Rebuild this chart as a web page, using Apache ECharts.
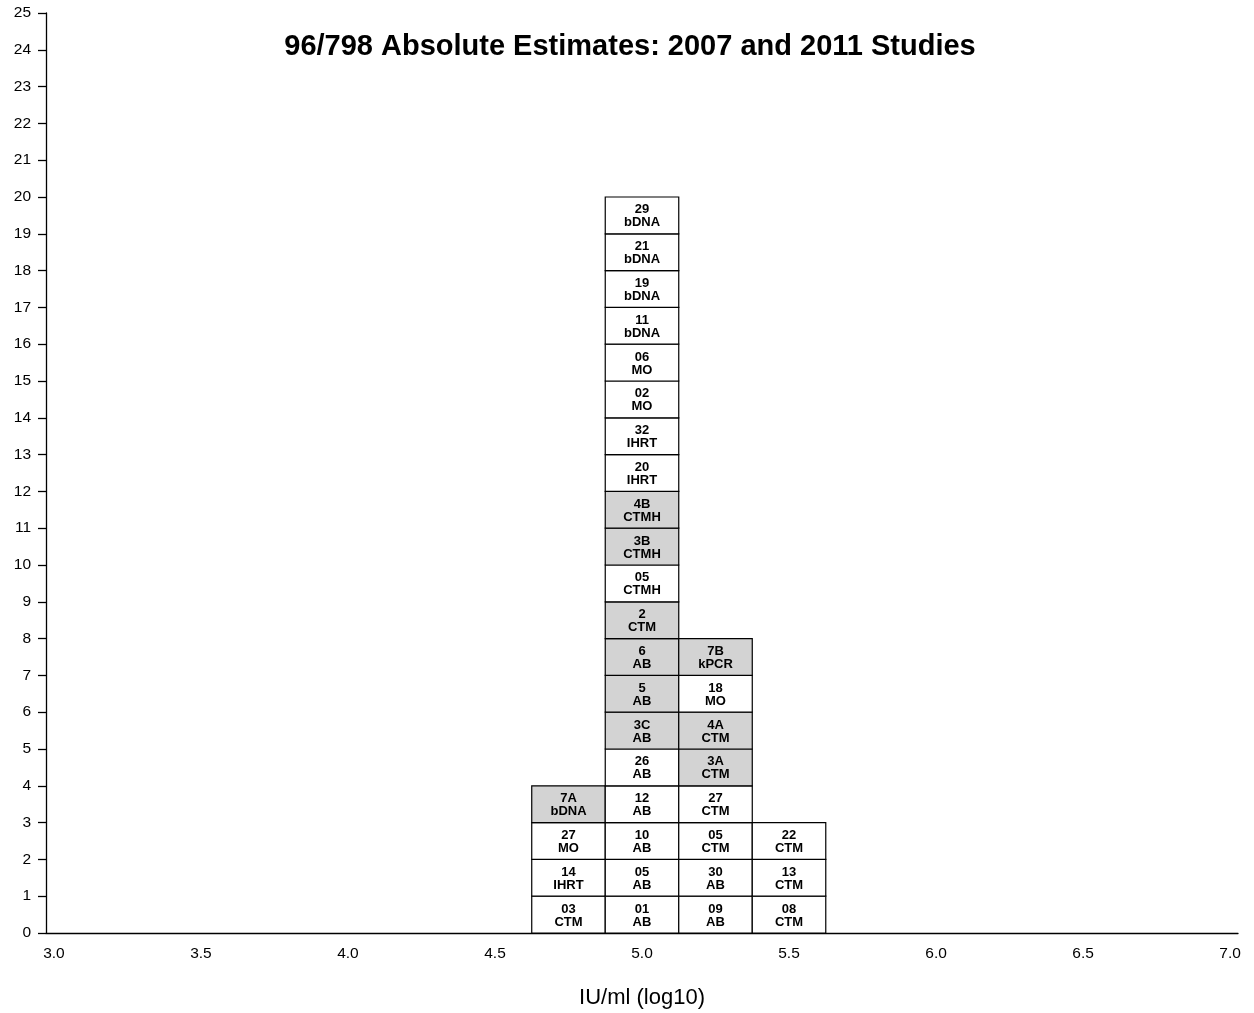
<!DOCTYPE html>
<html>
<head>
<meta charset="utf-8">
<script src="https://cdn.jsdelivr.net/npm/echarts@6/dist/echarts.min.js"></script>
<style>html,body{margin:0;padding:0;background:#fff}#c{width:1254px;height:1013px}</style>
</head>
<body>
<div id="c"></div>
<script>
// Bin centres (IU/ml, log10) and bin width
var binCenters = [4.75, 5.0, 5.25, 5.5];
var binWidth = 0.25;
// Cells per bin, bottom to top: lab code, method, shaded (2011 study)
var col475Labs = ['03', '14', '27', '7A'];
var col475Methods = ['CTM', 'IHRT', 'MO', 'bDNA'];
var col475Shaded = [0, 0, 0, 1];
var col500Labs = ['01', '05', '10', '12', '26', '3C', '5', '6', '2', '05', '3B', '4B', '20', '32', '02', '06', '11', '19', '21', '29'];
var col500Methods = ['AB', 'AB', 'AB', 'AB', 'AB', 'AB', 'AB', 'AB', 'CTM', 'CTMH', 'CTMH', 'CTMH', 'IHRT', 'IHRT', 'MO', 'MO', 'bDNA', 'bDNA', 'bDNA', 'bDNA'];
var col500Shaded = [0, 0, 0, 0, 0, 1, 1, 1, 1, 0, 1, 1, 0, 0, 0, 0, 0, 0, 0, 0];
var col525Labs = ['09', '30', '05', '27', '3A', '4A', '18', '7B'];
var col525Methods = ['AB', 'AB', 'CTM', 'CTM', 'CTM', 'CTM', 'MO', 'kPCR'];
var col525Shaded = [0, 0, 0, 0, 1, 1, 0, 1];
var col550Labs = ['08', '13', '22'];
var col550Methods = ['CTM', 'CTM', 'CTM'];
var col550Shaded = [0, 0, 0];
var xTickLabels = [3.0, 3.5, 4.0, 4.5, 5.0, 5.5, 6.0, 6.5, 7.0];

var cols = [
  [col475Labs, col475Methods, col475Shaded],
  [col500Labs, col500Methods, col500Shaded],
  [col525Labs, col525Methods, col525Shaded],
  [col550Labs, col550Methods, col550Shaded]
];
var cells = [];
cols.forEach(function (c, i) {
  c[0].forEach(function (lab, j) {
    cells.push([binCenters[i], j, lab, c[1][j], c[2][j]]);
  });
});

var chart = echarts.init(document.getElementById('c'));
var FONT = '"Liberation Sans", Arial, Helvetica, sans-serif';
chart.setOption({
  animation: false,
  backgroundColor: '#fff',
  title: {
    text: '96/798 Absolute Estimates: 2007 and 2011 Studies',
    left: 625, top: 27, textAlign: 'center',
    textStyle: { fontFamily: FONT, fontSize: 29, fontWeight: 'bold', color: '#000' }
  },
  grid: { left: 46, right: 16, top: 13, bottom: 80, outerBoundsMode: 'none', containLabel: false },
  xAxis: {
    type: 'value', min: 2.973, max: 7.027,
    name: 'IU/ml (log10)', nameLocation: 'middle', nameGap: 54,
    nameTextStyle: { fontFamily: FONT, fontSize: 22, color: '#000' },
    axisLine: { show: true, lineStyle: { color: '#000', width: 1.3 } },
    axisTick: { show: false },
    splitLine: { show: false },
    axisLabel: {
      customValues: xTickLabels,
      formatter: function (v) { return v.toFixed(1); },
      fontFamily: FONT, fontSize: 15.5, color: '#000', margin: 13
    }
  },
  yAxis: {
    type: 'value', min: 0, max: 25, interval: 1,
    axisLine: { show: true, lineStyle: { color: '#000', width: 1.3 } },
    axisTick: { show: true, length: 8, lineStyle: { color: '#000', width: 1.3 } },
    splitLine: { show: false },
    axisLabel: { fontFamily: FONT, fontSize: 15.5, color: '#000', margin: 15 }
  },
  series: [{
    type: 'custom',
    data: cells.map(function (c) { return [c[0], c[1]]; }),
    renderItem: function (params, api) {
      var cell = cells[params.dataIndex];
      var x = api.value(0), y = api.value(1);
      var tl = api.coord([x - binWidth / 2, y + 1]);
      var sz = api.size([binWidth, 1]);
      var shaded = cell[4] === 1;
      return {
        type: 'group',
        children: [{
          type: 'rect',
          shape: { x: tl[0], y: tl[1], width: sz[0], height: sz[1] },
          style: { fill: shaded ? '#d3d3d3' : '#fff', stroke: '#000', lineWidth: 1.2 }
        }, {
          type: 'text',
          style: {
            x: tl[0] + sz[0] / 2, y: tl[1] + sz[1] / 2 + 1,
            text: cell[2] + '\n' + cell[3],
            align: 'center', verticalAlign: 'middle',
            font: 'bold 13px ' + FONT, lineHeight: 13, fill: '#000'
          }
        }]
      };
    }
  }]
});
</script>
</body>
</html>
